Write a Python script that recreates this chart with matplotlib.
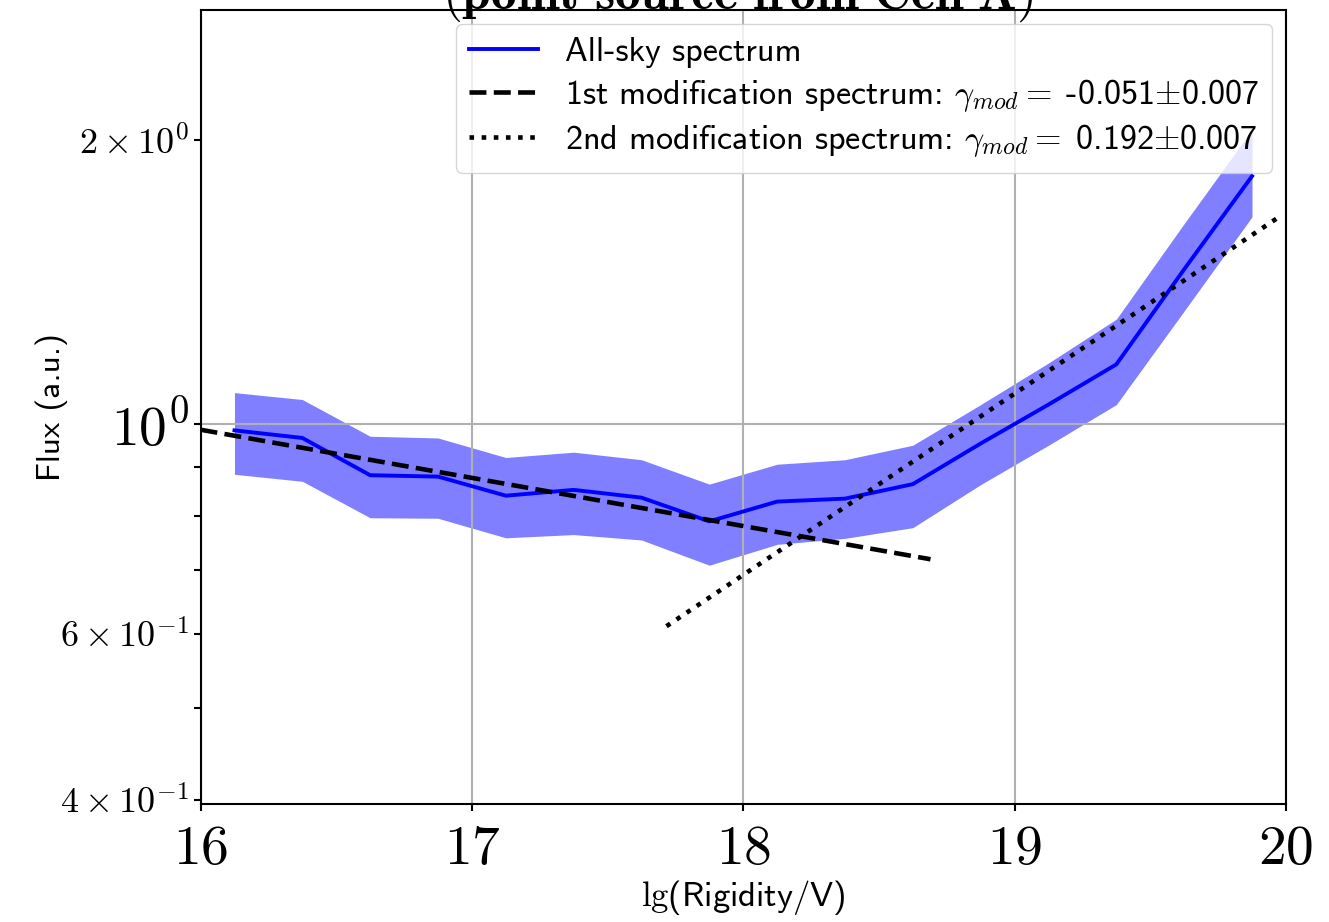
import numpy as np
import matplotlib
matplotlib.use("Agg")
import matplotlib.pyplot as plt
from matplotlib.ticker import FuncFormatter, LogLocator

plt.rcParams['mathtext.fontset'] = 'cm'

# all-sky spectrum, bins of 0.25 in lg(R/V)
lg_r = [16.125, 16.375, 16.625, 16.875, 17.125, 17.375, 17.625, 17.875,
        18.125, 18.375, 18.625, 18.875, 19.125, 19.375, 19.625, 19.875]
flux = [0.985, 0.967, 0.883, 0.880, 0.840, 0.852, 0.836, 0.789,
        0.828, 0.834, 0.864, 0.954, 1.049, 1.157, 1.459, 1.831]
flux_hi = [1.080, 1.062, 0.971, 0.967, 0.922, 0.934, 0.917, 0.864,
           0.907, 0.917, 0.950, 1.049, 1.161, 1.292, 1.631, 2.050]
flux_lo = [0.885, 0.870, 0.796, 0.795, 0.758, 0.764, 0.754, 0.709,
           0.746, 0.757, 0.777, 0.863, 0.950, 1.049, 1.318, 1.658]

# modification power laws: flux = norm * 10**(gamma * (lg_r - lg_r0))
gamma1, norm1, range1 = -0.051, 0.9866, (16.0, 18.69)
gamma2, norm2, range2 = 0.192, 0.611, (17.717, 19.972)

fig = plt.figure(figsize=(13.29, 9.22), dpi=100)
ax = fig.add_axes([0.1509, 0.1277, 0.8167, 0.8615])

ax.fill_between(lg_r, flux_lo, flux_hi, color='blue', alpha=0.5, linewidth=0)
ax.plot(lg_r, flux, color='blue', lw=2.8, label='All-sky spectrum')

x1 = np.linspace(*range1, 50)
ax.plot(x1, norm1 * 10 ** (gamma1 * (x1 - range1[0])), 'k--', lw=3.3,
        label=r'1st modification spectrum: $\gamma_{mod} =\;$-0.051$\pm$0.007')
x2 = np.linspace(*range2, 50)
ax.plot(x2, norm2 * 10 ** (gamma2 * (x2 - range2[0])), 'k:', lw=3.3,
        label=r'2nd modification spectrum: $\gamma_{mod} =\;$0.192$\pm$0.007')

ax.set_yscale('log')
ax.set_xlim(16, 20)
ax.set_ylim(0.3958, 2.746)
ax.set_xticks([16, 17, 18, 19, 20])
ax.xaxis.set_major_formatter(FuncFormatter(lambda v, p: r'$%d$' % round(v)))

ax.yaxis.set_major_locator(LogLocator(base=10))
ax.yaxis.set_minor_locator(LogLocator(base=10, subs=np.arange(2, 10)))
ax.yaxis.set_major_formatter(FuncFormatter(
    lambda v, p: r'$10^{%d}$' % round(np.log10(v))))


def minor_label(v, p):
    e = int(np.floor(np.log10(v) + 1e-9))
    m = int(round(v / 10 ** e))
    if m in (2, 4, 6):
        return r'$%d\times10^{%d}$' % (m, e)
    return ''


ax.yaxis.set_minor_formatter(FuncFormatter(minor_label))

ax.tick_params(which='both', length=5, width=1.5)
ax.tick_params(which='major', labelsize=40)
ax.tick_params(which='minor', labelsize=26)
ax.tick_params(axis='x', which='major', pad=8)
for s in ax.spines.values():
    s.set_linewidth(1.5)

ax.grid(True, which='major', color='#b0b0b0', lw=1.5)

ax.set_xlabel(r'$\mathrm{lg}$(Rigidity/V)', fontsize=25, family='cmss10')
ax.set_ylabel('Flux (a.u.)', fontsize=24, family='cmss10')
ax.xaxis.set_label_coords(0.5, -0.093)
ax.yaxis.set_label_coords(-0.122, 0.5)

ax.legend(loc='upper right', prop={'family': 'cmss10', 'size': 24.5},
          labelspacing=0.25, handlelength=2.0, borderaxespad=0.4)

fig.text(0.555, 1 - 9 / 922, r'$\mathbf{(point\ source\ from\ Cen\ A)}$',
         fontsize=37, ha='center', va='baseline')

fig.savefig('out.png', dpi=100)
